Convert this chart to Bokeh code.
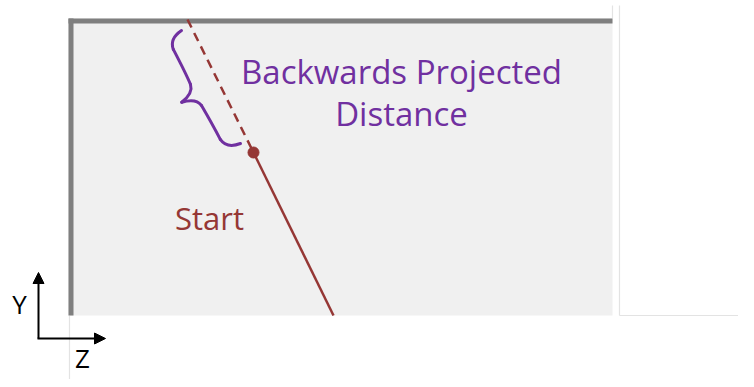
import numpy as np
from bokeh.plotting import figure
from bokeh.models import Range1d, Arrow, NormalHead
from bokeh.core.properties import value
from bokeh.embed import file_html
from bokeh.resources import INLINE

# ---- diagram geometry (screen pixels, y grows downward) ----
panel_x = [68, 612]
panel_y = [18, 315]
ray_top = [187, 19]
ray_origin = [253, 152]
ray_bottom = [333, 315]

brace_end_a = [181, 30]
brace_end_b = [240, 143]
# brace outline in local (along, outward) units, 6 cubic segments
brace_t0 = [0, 13, 52, 63.75, 75.5, 114.5]
brace_d0 = [0, 16, 17, 33, 17, 16]
brace_t1 = [13, 52, 63.75, 75.5, 114.5, 127.5]
brace_d1 = [16, 17, 33, 17, 16, 0]
brace_ct0 = [1, 30, 58, 65.5, 97, 122.5]
brace_cd0 = [9, 16, 18, 24, 16, 15]
brace_ct1 = [5, 40, 62, 69.5, 107, 126.5]
brace_cd1 = [15, 16, 24, 18, 16, 9]

label_lines = ["Backwards Projected", "Distance"]
label_x = [401, 401]
label_y = [70.5, 112.5]
start_label = ["Start"]
start_xy = [209, 217]
axis_origin = [38, 338]
y_tip = [38, 272]
z_tip = [105, 338]
axis_labels = ["Y", "Z"]
axis_label_x = [19, 82]
axis_label_y = [303, 357]

frame_x = [[612, 612], [619, 619], [619, 760], [69, 69]]
frame_y = [[5, 18], [5, 315], [315, 315], [315, 385]]

PURPLE = "#7030a0"
RED = "#953735"
GREY = "#7f7f7f"

p = figure(width=738, height=379, output_backend="svg", toolbar_location=None,
           x_range=Range1d(0, 738), y_range=Range1d(379, 0), min_border=0)
p.axis.visible = False
p.grid.visible = False
p.outline_line_color = None
p.background_fill_color = "white"
p.border_fill_color = "white"

# faint frame lines
p.multi_line(frame_x, frame_y, line_color="#e3e3e3", line_width=1.2)

# panel
p.quad(left=[panel_x[0]], right=[panel_x[1]], top=[panel_y[0]], bottom=[panel_y[1]],
       fill_color="#f0f0f0", line_color=None)
p.quad(left=[panel_x[0]], right=[panel_x[1]], top=[panel_y[0]], bottom=[panel_y[0] + 5],
       fill_color=GREY, line_color=None)
p.quad(left=[panel_x[0]], right=[panel_x[0] + 5], top=[panel_y[0]], bottom=[panel_y[1]],
       fill_color=GREY, line_color=None)

# ray
p.line([ray_top[0], ray_origin[0]], [ray_top[1], ray_origin[1]], line_color=RED,
       line_width=2.5, line_dash="9 6")
p.line([ray_origin[0], ray_bottom[0]], [ray_origin[1], ray_bottom[1]], line_color=RED,
       line_width=2.5)
p.scatter([ray_origin[0]], [ray_origin[1]], size=11, color=RED)

# brace
A = np.array(brace_end_a, float)
B = np.array(brace_end_b, float)
L = np.linalg.norm(B - A)
u = (B - A) / L
n = np.array([-u[1], u[0]])
if n[0] > 0:
    n = -n
scale = L / 127.5

def tr(t, d):
    t = np.array(t) * scale
    d = np.array(d)
    return A[0] + t * u[0] + d * n[0], A[1] + t * u[1] + d * n[1]

x0, y0 = tr(brace_t0, brace_d0)
x1, y1 = tr(brace_t1, brace_d1)
cx0, cy0 = tr(brace_ct0, brace_cd0)
cx1, cy1 = tr(brace_ct1, brace_cd1)
p.bezier(x0=x0, y0=y0, x1=x1, y1=y1, cx0=cx0, cy0=cy0, cx1=cx1, cy1=cy1,
         line_color=PURPLE, line_width=3, line_cap="round")

# labels
p.text(label_x, label_y, text=label_lines, text_font=value("Open Sans"),
       text_font_size="33px", text_color=PURPLE, text_align="center",
       text_baseline="alphabetic")
p.text([start_xy[0]], [start_xy[1]], text=start_label, text_font=value("Open Sans"),
       text_font_size="31px", text_color=RED, text_align="center",
       text_baseline="alphabetic")

# axis icon
p.add_layout(Arrow(end=NormalHead(size=11, fill_color="black", line_color="black"),
                   x_start=axis_origin[0], y_start=axis_origin[1],
                   x_end=y_tip[0], y_end=y_tip[1], line_width=2, line_color="black"))
p.add_layout(Arrow(end=NormalHead(size=11, fill_color="black", line_color="black"),
                   x_start=axis_origin[0] - 1, y_start=axis_origin[1],
                   x_end=z_tip[0], y_end=z_tip[1], line_width=2, line_color="black"))
p.text(axis_label_x, axis_label_y, text=axis_labels, text_font=value("Open Sans"),
       text_font_size="26px", text_color="black", text_align="center",
       text_baseline="alphabetic")

open("out.html", "w").write(file_html(p, INLINE))
